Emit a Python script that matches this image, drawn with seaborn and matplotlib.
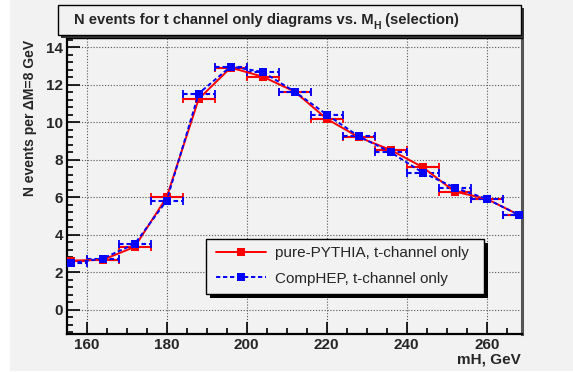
import matplotlib
matplotlib.use("Agg")
import matplotlib.pyplot as plt
import seaborn as sns
from matplotlib.patches import Rectangle
from matplotlib.lines import Line2D
from matplotlib.ticker import MultipleLocator

# Higgs mass points (bin centres, GeV) and event counts per 8 GeV bin
mh = [156, 164, 172, 180, 188, 196, 204, 212, 220, 228, 236, 244, 252, 260, 268]
pythia = [2.63, 2.67, 3.36, 6.01, 11.25, 12.92, 12.44, 11.64, 10.19, 9.21, 8.53, 7.61, 6.31, 5.92, 5.07]
comphep = [2.49, 2.74, 3.52, 5.83, 11.54, 12.98, 12.69, 11.64, 10.42, 9.26, 8.41, 7.32, 6.52, 5.92, 5.07]
bin_half_width = 4.0

series_labels = ["pure-PYTHIA, t-channel only", "CompHEP, t-channel only"]
title_main = "N events for t channel only diagrams vs. M"
title_sub = "H"
title_tail = " (selection)"
y_label = "N events per \u0394M=8 GeV"
x_label = "mH, GeV"

W, H = 573, 372
BG = "#f2f2f2"
DASH = (0, (2.2, 1.4))

sns.set_theme(style="ticks")
plt.rcParams["font.family"] = ["Liberation Sans", "DejaVu Sans"]


def fx(px):
    return px / W


def fy(py):
    return 1 - py / H


fig = plt.figure(figsize=(W / 100, H / 100), dpi=100, facecolor="white")
# canvas pad
fig.add_artist(Rectangle((fx(10), fy(370.5)), fx(W - 10), 370.5 / H,
                         transform=fig.transFigure, facecolor=BG, edgecolor="none", zorder=-10))

ax = fig.add_axes([fx(67), fy(334.3), (521.7 - 67) / W, (334.3 - 38) / H])
ax.set_facecolor(BG)

# horizontal bin-width bars
eb1 = ax.errorbar(mh, pythia, xerr=bin_half_width, fmt="none", ecolor="red",
                  elinewidth=1.5, capsize=2.6, capthick=1.3, zorder=3)
eb2 = ax.errorbar(mh, comphep, xerr=bin_half_width, fmt="none", ecolor="blue",
                  elinewidth=1.5, capsize=2.6, capthick=1.3, zorder=4)
for c in eb2[2]:
    c.set_linestyle(DASH)

sns.lineplot(x=mh, y=pythia, ax=ax, color="red", lw=1.4, marker="s", markersize=6.4,
             markeredgewidth=0, zorder=5, legend=False)
sns.lineplot(x=mh, y=comphep, ax=ax, color="blue", lw=1.4, linestyle=DASH, marker="s",
             markersize=6.4, markeredgewidth=0, zorder=6, legend=False)

ax.set_xlim(155.08, 268.75)
ax.set_ylim(-1.3, 14.5)
ax.xaxis.set_major_locator(MultipleLocator(20))
ax.xaxis.set_minor_locator(MultipleLocator(5))
ax.yaxis.set_major_locator(MultipleLocator(2))
ax.yaxis.set_minor_locator(MultipleLocator(0.4))
ax.tick_params(which="both", direction="in", color="black", width=1.2,
               top=False, right=False)
ax.tick_params(which="major", length=9, labelsize=11, pad=3)
ax.tick_params(which="minor", length=4.5)
for lab in ax.get_xticklabels() + ax.get_yticklabels():
    lab.set_fontweight("bold")
ax.grid(True, which="major", linestyle=(0, (1, 1.6)), color="#555555", lw=0.8)
ax.set_xlabel("")
ax.set_ylabel("")
for side in ["left", "bottom", "top"]:
    ax.spines[side].set_color("black")
    ax.spines[side].set_linewidth(1.6)
ax.spines["top"].set_linewidth(1.0)
ax.spines["right"].set_color("#555555")
ax.spines["right"].set_linewidth(2.2)

# title pave with shadow
fig.add_artist(Rectangle((fx(61), fy(38)), (521 - 58) / W, 30 / H, transform=fig.transFigure,
                         facecolor="#333333", edgecolor="none", zorder=8))
fig.add_artist(Rectangle((fx(58), fy(35)), (521 - 58) / W, 30 / H, transform=fig.transFigure,
                         facecolor=BG, edgecolor="black", lw=1.0, zorder=9))

# title: main part, lowered small subscript, tail
fig.canvas.draw()
renderer = fig.canvas.get_renderer()
title_fs = 10.6
sub_fs = 7.5
t1 = fig.text(0, fy(20), title_main, ha="left", va="center", fontsize=title_fs,
              fontweight="bold", zorder=10)
t2 = fig.text(0, fy(26), title_sub, ha="left", va="center", fontsize=sub_fs,
              fontweight="bold", zorder=10)
t3 = fig.text(0, fy(20), title_tail, ha="left", va="center", fontsize=title_fs,
              fontweight="bold", zorder=10)
widths = [t.get_window_extent(renderer).width for t in (t1, t2, t3)]
total = sum(widths)
x0 = 266.5 - total / 2
t1.set_x(fx(x0))
t2.set_x(fx(x0 + widths[0] - 0.5))
t3.set_x(fx(x0 + widths[0] - 0.5 + widths[1]))

# axis titles
fig.text(fx(30), fy(40), y_label, rotation=90, ha="center", va="top", fontsize=10,
         fontweight="bold")
fig.text(fx(521), fy(359), x_label, ha="right", va="center", fontsize=11,
         fontweight="bold")

# legend pave with shadow
fig.add_artist(Rectangle((fx(210), fy(298)), (484 - 206) / W, 55 / H, transform=fig.transFigure,
                         facecolor="black", edgecolor="none", zorder=20))
fig.add_artist(Rectangle((fx(206), fy(294)), (484 - 206) / W, 55 / H, transform=fig.transFigure,
                         facecolor=BG, edgecolor="black", lw=1.0, zorder=21))
handles = [
    Line2D([], [], color="red", lw=1.4, marker="s", markersize=6.4, markeredgewidth=0),
    Line2D([], [], color="blue", lw=1.4, linestyle=DASH, marker="s", markersize=6.4,
           markeredgewidth=0),
]
leg = fig.legend(handles, series_labels, loc="center left",
                 bbox_to_anchor=(fx(216), fy(266)), frameon=False, fontsize=11,
                 handlelength=3.27, handletextpad=0.6, labelspacing=0.72,
                 borderpad=0, borderaxespad=0)
leg.set_zorder(22)

fig.savefig("out.png", dpi=100, facecolor=fig.get_facecolor())
